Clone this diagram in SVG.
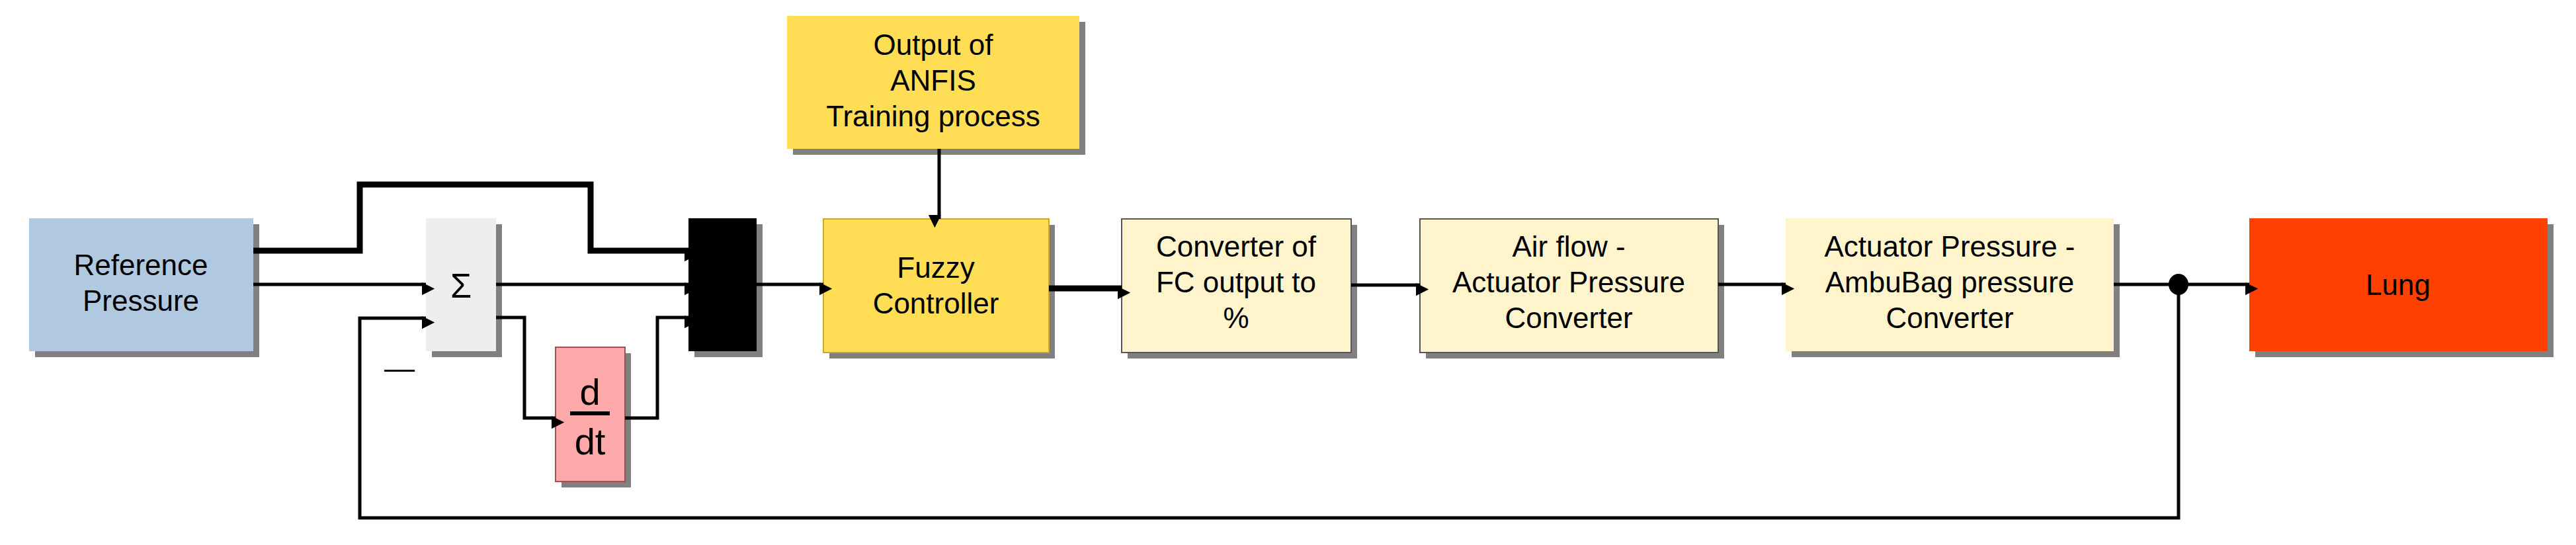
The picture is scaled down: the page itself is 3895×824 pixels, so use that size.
<svg xmlns="http://www.w3.org/2000/svg" width="3895" height="824" viewBox="0 0 3895 824">
<style>
text{font-family:"Liberation Sans",Arial,sans-serif;font-size:44px;fill:#000;text-anchor:middle}
.sh{fill:#808080}
.ln{fill:none;stroke:#000;stroke-width:5}
.tk{fill:none;stroke:#000;stroke-width:9}
</style>
<defs>
<marker id="a" viewBox="0 0 10 10" refX="10" refY="5" markerWidth="6" markerHeight="6" markerUnits="userSpaceOnUse" orient="auto" overflow="visible"><path d="M0,0L10,5L0,10z" transform="scale(3.2)"/></marker>
</defs>
<rect width="3895" height="824" fill="#fff"/>
<g id="ref"><rect class="sh" x="53" y="339" width="339" height="201"/><rect x="44" y="330" width="339" height="201" fill="#b0c8e0"/><text x="213" y="416">Reference</text><text x="213" y="470">Pressure</text></g>
<g id="sum"><rect class="sh" x="653" y="339" width="106" height="201"/><rect x="644" y="330" width="106" height="201" fill="#eeeeee"/><text x="697" y="450" style="font-size:52px">Σ</text></g>
<text x="604" y="572" style="font-size:46px">—</text>
<g id="deriv"><rect class="sh" x="849" y="534" width="105" height="203"/><rect x="840" y="525" width="105" height="203" fill="#ffaaaa" stroke="#a05050" stroke-width="2"/><text x="892" y="612" style="font-size:56px">d</text><line x1="862" y1="625" x2="922" y2="625" stroke="#000" stroke-width="6"/><text x="892" y="687" style="font-size:56px">dt</text></g>
<g id="mux"><rect class="sh" x="1050" y="339" width="103" height="201"/><rect x="1041" y="330" width="103" height="201" fill="#000"/></g>
<g id="anfis"><rect class="sh" x="1199" y="33" width="442" height="201"/><rect x="1190" y="24" width="442" height="201" fill="#ffdd55"/><text x="1411" y="83">Output of</text><text x="1411" y="137">ANFIS</text><text x="1411" y="191">Training process</text></g>
<g id="fuzzy"><rect class="sh" x="1254" y="340" width="341" height="202"/><rect x="1245" y="331" width="341" height="202" fill="#ffdd55" stroke="#c8a830" stroke-width="2"/><text x="1415" y="420">Fuzzy</text><text x="1415" y="474">Controller</text></g>
<g id="conv"><rect class="sh" x="1705" y="340" width="347" height="202"/><rect x="1696" y="331" width="347" height="202" fill="#fff4cc" stroke="#555" stroke-width="2"/><text x="1869" y="388">Converter of</text><text x="1869" y="442">FC output to</text><text x="1869" y="496">%</text></g>
<g id="airflow"><rect class="sh" x="2156" y="340" width="451" height="202"/><rect x="2147" y="331" width="451" height="202" fill="#fff4cc" stroke="#555" stroke-width="2"/><text x="2372" y="388">Air flow -</text><text x="2372" y="442">Actuator Pressure</text><text x="2372" y="496">Converter</text></g>
<g id="actuator"><rect class="sh" x="2709" y="339" width="496" height="201"/><rect x="2700" y="330" width="496" height="201" fill="#fff4cc"/><text x="2948" y="388">Actuator Pressure -</text><text x="2948" y="442">AmbuBag pressure</text><text x="2948" y="496">Converter</text></g>
<g id="lung"><rect class="sh" x="3410" y="339" width="451" height="201"/><rect x="3401" y="330" width="451" height="201" fill="#ff4000"/><text x="3626" y="446" fill="#400000">Lung</text></g>
<g id="connectors">
<polyline class="tk" points="383,379 544,379 544,279 893,279 893,379 1041,379" marker-end="url(#a)"/>
<line class="ln" x1="383" y1="430" x2="644" y2="430" marker-end="url(#a)"/>
<line class="ln" x1="750" y1="430" x2="1041" y2="430" marker-end="url(#a)"/>
<polyline class="ln" points="750,480 793,480 793,632 840,632" marker-end="url(#a)"/>
<polyline class="ln" points="945,632 994,632 994,480 1041,480" marker-end="url(#a)"/>
<line class="ln" x1="1144" y1="430" x2="1245" y2="430" marker-end="url(#a)"/>
<line class="ln" x1="1420" y1="225" x2="1420" y2="331" marker-end="url(#a)"/>
<line class="tk" x1="1586" y1="436" x2="1696" y2="436" marker-end="url(#a)"/>
<line class="ln" x1="2043" y1="431" x2="2147" y2="431" marker-end="url(#a)"/>
<line class="ln" x1="2598" y1="430" x2="2700" y2="430" marker-end="url(#a)"/>
<line class="ln" x1="3196" y1="430" x2="3401" y2="430" marker-end="url(#a)"/>
<ellipse cx="3294" cy="430" rx="15" ry="16"/>
<polyline class="ln" points="3294,430 3294,783 544,783 544,481 644,481" marker-end="url(#a)"/>
</g>
</svg>
